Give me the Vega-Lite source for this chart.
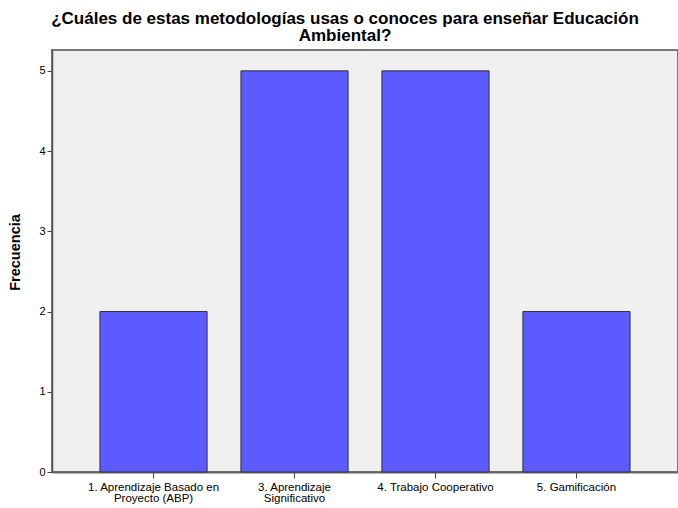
{
  "$schema": "https://vega.github.io/schema/vega-lite/v6.json",
  "autosize": {"type": "none"},
  "padding": {"left": 52, "top": 50, "right": 0, "bottom": 36},
  "width": 626,
  "height": 422,
  "background": "white",
  "title": {
    "text": ["¿Cuáles de estas metodologías usas o conoces para enseñar Educación", "Ambiental?"],
    "font": "Liberation Sans",
    "fontSize": 17,
    "fontWeight": "bold",
    "color": "#000000",
    "anchor": "middle",
    "frame": "group",
    "dx": -20,
    "lineHeight": 17.5,
    "offset": 5
  },
  "config": {
    "view": {"fill": "#f0f0f0", "stroke": "#777777", "strokeWidth": 2},
    "axis": {
      "labelFont": "Liberation Sans",
      "titleFont": "Liberation Sans",
      "labelColor": "#000000",
      "titleColor": "#000000",
      "domainColor": "#555555",
      "tickColor": "#444444",
      "grid": false
    }
  },
  "data": {
    "values": [
      {"metodologia": "1. Aprendizaje Basado en|Proyecto (ABP)", "frecuencia": 2},
      {"metodologia": "3. Aprendizaje|Significativo", "frecuencia": 5},
      {"metodologia": "4. Trabajo Cooperativo", "frecuencia": 5},
      {"metodologia": "5. Gamificación", "frecuencia": 2}
    ]
  },
  "mark": {"type": "bar", "fill": "#5b5bff", "stroke": "#333333", "strokeWidth": 1},
  "encoding": {
    "x": {
      "field": "metodologia",
      "type": "nominal",
      "sort": null,
      "scale": {"paddingInner": 0.24, "paddingOuter": 0.34},
      "axis": {
        "title": null,
        "labelAngle": 0,
        "labelFontSize": 11.5,
        "labelLineHeight": 11,
        "labelExpr": "split(datum.value, '|')",
        "tickSize": 6,
        "labelPadding": 3,
        "domainWidth": 2,
        "domainColor": "#666666"
      }
    },
    "y": {
      "field": "frecuencia",
      "type": "quantitative",
      "scale": {"domain": [0, 5.26], "nice": false},
      "axis": {
        "title": "Frecuencia",
        "titleFontSize": 14.5,
        "titleFontWeight": "bold",
        "titlePadding": 16,
        "titleY": 202,
        "values": [0, 1, 2, 3, 4, 5],
        "labelFontSize": 11,
        "tickSize": 5,
        "labelPadding": 2,
        "domainWidth": 1.5
      }
    }
  }
}
